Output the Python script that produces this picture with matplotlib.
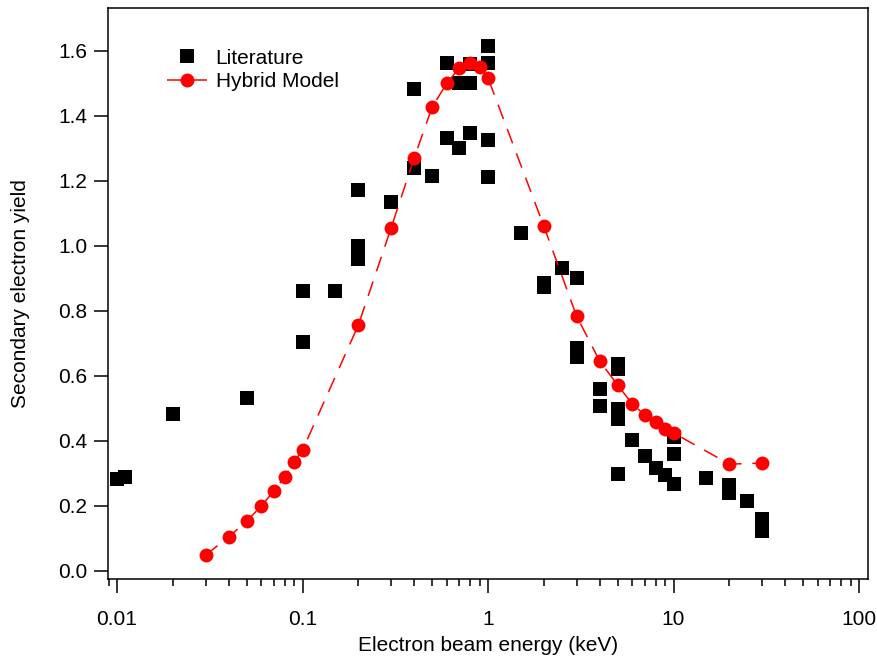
import numpy as np
import matplotlib.pyplot as plt
from matplotlib.ticker import LogLocator, FixedLocator, NullFormatter

plt.rcParams['font.family'] = ['Liberation Sans', 'DejaVu Sans']

# literature values (keV, yield)
lit_energy = [0.01, 0.011, 0.02, 0.05, 0.1, 0.1, 0.15, 0.2, 0.2, 0.2, 0.3,
              0.4, 0.4, 0.5, 0.6, 0.6, 0.7, 0.7, 0.8, 0.8, 0.8, 1.0, 1.0, 1.0, 1.0,
              1.5, 2.0, 2.0, 2.5, 3.0, 3.0, 3.0, 4.0, 4.0, 5.0, 5.0, 5.0, 5.0, 5.0,
              6.0, 7.0, 8.0, 9.0, 10.0, 10.0, 10.0, 15.0, 20.0, 20.0, 25.0, 30.0, 30.0]
lit_yield = [0.282, 0.287, 0.481, 0.531, 0.862, 0.703, 0.862, 1.171, 1.000, 0.960, 1.134,
             1.481, 1.240, 1.216, 1.562, 1.332, 1.300, 1.500, 1.500, 1.346, 1.560, 1.616, 1.562, 1.326, 1.211,
             1.040, 0.885, 0.874, 0.931, 0.900, 0.686, 0.657, 0.559, 0.508, 0.636, 0.622, 0.497, 0.466, 0.297,
             0.402, 0.353, 0.316, 0.294, 0.266, 0.359, 0.410, 0.285, 0.263, 0.238, 0.214, 0.158, 0.123]

# hybrid model
model_energy = [0.03, 0.04, 0.05, 0.06, 0.07, 0.08, 0.09, 0.1, 0.2, 0.3, 0.4, 0.5,
                0.6, 0.7, 0.8, 0.9, 1.0, 2.0, 3.0, 4.0, 5.0, 6.0, 7.0, 8.0, 9.0, 10.0, 20.0, 30.0]
model_yield = [0.048, 0.104, 0.153, 0.199, 0.245, 0.288, 0.335, 0.371, 0.756, 1.054, 1.270, 1.427,
               1.500, 1.547, 1.562, 1.550, 1.516, 1.060, 0.784, 0.645, 0.571, 0.513, 0.479, 0.458,
               0.436, 0.424, 0.328, 0.331]

fig = plt.figure(figsize=(8.78, 6.57), dpi=100)
ax = fig.add_axes([0.123, 0.1187, 0.8656, 0.8691])

ax.plot(lit_energy, lit_yield, ls='none', marker='s', ms=9.4, mfc='black', mec='black',
        mew=0, color='black', label='Literature')
ax.plot(model_energy, model_yield, color='red', lw=1.1, ls=(0, (10, 7)), marker='o', ms=10,
        mfc='red', mec='red', mew=0, label='Hybrid Model')

ax.set_xscale('log')
ax.set_xlim(0.00894, 111.8)
ax.set_ylim(-0.0255, 1.7314)

ax.xaxis.set_major_locator(FixedLocator([0.01, 0.1, 1, 10, 100]))
ax.set_xticklabels(['0.01', '0.1', '1', '10', '100'])
ax.xaxis.set_minor_locator(LogLocator(base=10, subs=np.arange(2, 10)))
ax.xaxis.set_minor_formatter(NullFormatter())
ax.set_yticks(np.arange(0, 1.61, 0.2))
ax.set_yticklabels(['%.1f' % v for v in np.arange(0, 1.61, 0.2)])

ax.tick_params(axis='both', which='major', direction='out', length=10, width=1.1,
               labelsize=15, top=False, right=False)
ax.tick_params(axis='x', which='major', pad=12.5)
ax.tick_params(axis='y', which='major', pad=5)
ax.tick_params(axis='x', which='minor', direction='out', length=5, width=1.1)
for s in ax.spines.values():
    s.set_linewidth(1.1)

ax.set_xlabel('Electron beam energy (keV)', fontsize=15, labelpad=5)
ax.set_ylabel('Secondary electron yield', fontsize=15, labelpad=20)

ax.legend(loc='upper left', bbox_to_anchor=(0.0534, 0.9615), frameon=False, fontsize=15,
          handlelength=1.9, handletextpad=0.42, labelspacing=0.2, numpoints=1)

fig.savefig('out.png', dpi=100)
